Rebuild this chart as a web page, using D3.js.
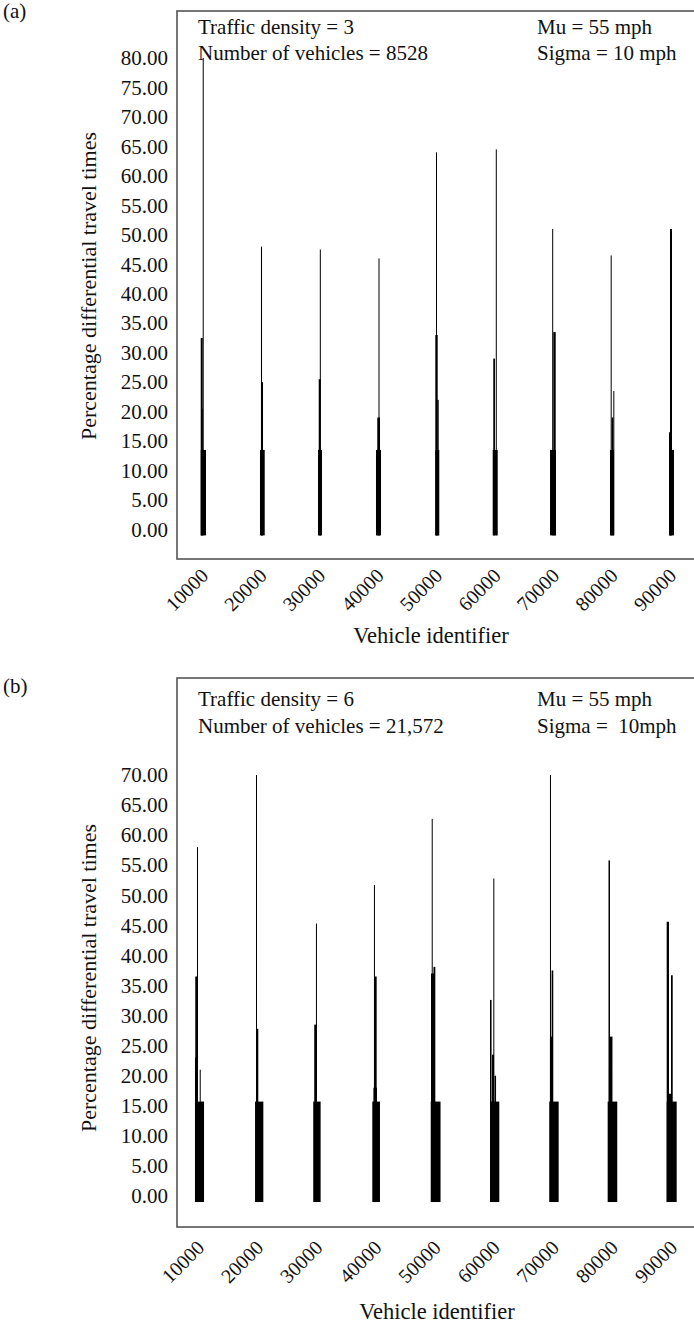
<!DOCTYPE html>
<html>
<head>
<meta charset="utf-8">
<script src="https://cdn.jsdelivr.net/npm/d3@7"></script>
<style>
  html, body { margin: 0; padding: 0; background: #fff; }
  svg { display: block; }
  text { font-family: 'Liberation Serif', 'Times New Roman', serif; fill: #111; }
</style>
</head>
<body>
<svg id="chart" width="694" height="1325"></svg>
<script>
// ---------------- DATA ----------------
const xTickValues = [10000, 20000, 30000, 40000, 50000, 60000, 70000, 80000, 90000];
const yTicksA = [0, 5, 10, 15, 20, 25, 30, 35, 40, 45, 50, 55, 60, 65, 70, 75, 80];
const yTicksB = [0, 5, 10, 15, 20, 25, 30, 35, 40, 45, 50, 55, 60, 65, 70];

// panel (a): dense runs of vehicles [firstId, lastId, value]
const blocksA = [
  [9610, 10510, 13.5], [19740, 20550, 13.5], [29660, 30340, 13.5],
  [39570, 40430, 13.5], [49710, 50390, 13.5], [59520, 60380, 13.5],
  [69320, 70340, 13.5], [79570, 80260, 13.5], [89710, 90510, 13.5]
];
// panel (a): individual spikes [firstId, lastId, value]
const spikesA = [
  [9610, 9950, 32.5], [9700, 9950, 20.5], [9950, 10120, 80],
  [19910, 20260, 25], [19910, 20090, 48],
  [29780, 30120, 25.5], [29970, 30140, 47.5],
  [39790, 40260, 19], [40000, 40170, 46],
  [49710, 50120, 33], [50050, 50290, 22], [49830, 50000, 64],
  [59620, 59910, 29], [60050, 60220, 64.5],
  [69880, 70290, 33.5], [69690, 69860, 51],
  [79860, 80140, 19], [80140, 80310, 23.5], [79690, 79860, 46.5],
  [89660, 90000, 16.5], [89830, 90170, 51]
];

// panel (b)
const blocksB = [
  [9320, 10850, 15.7], [19480, 20880, 15.7], [29320, 30570, 15.7],
  [39310, 40610, 15.7], [49190, 50850, 15.7], [59220, 60790, 15.7],
  [69240, 70830, 15.7], [79120, 80740, 15.7], [89100, 90790, 15.7]
];
const spikesB = [
  [9370, 9710, 36.5], [9660, 9830, 58], [10120, 10290, 21], [9320, 9620, 23],
  [19730, 20030, 27.8], [19640, 19810, 70],
  [29490, 29900, 28.5], [29780, 29950, 45.3],
  [39640, 40050, 36.5], [39590, 39760, 51.7], [39500, 40100, 18],
  [49240, 49750, 37], [49660, 49970, 38.1], [49360, 49530, 62.7],
  [59220, 59480, 32.6], [59780, 59950, 52.8], [59560, 59900, 23.5], [59980, 60240, 20],
  [69360, 69530, 70], [69640, 69920, 37.5], [69360, 69700, 26.5],
  [79260, 79510, 55.8], [79510, 79930, 26.5], [79340, 79850, 21.5],
  [89100, 89490, 45.6], [89830, 90120, 36.7], [89320, 89830, 17]
];

const infoA = { tag: "(a)", left: ["Traffic density = 3", "Number of vehicles = 8528"], right: ["Mu = 55 mph", "Sigma = 10 mph"] };
const infoB = { tag: "(b)", left: ["Traffic density = 6", "Number of vehicles = 21,572"], right: ["Mu = 55 mph", "Sigma =  10mph"] };
const xTitle = "Vehicle identifier";
const yTitle = "Percentage differential travel times";

// ---------------- LAYOUT ----------------
const svg = d3.select("#chart");
const FS = 21;

function panel(cfg) {
  const g = svg.append("g");
  const x = d3.scaleLinear().domain([10000, 90000]).range(cfg.xRange);
  const y = d3.scaleLinear().domain([0, cfg.yMax]).range(cfg.yRange);

  // frame (right side runs off the page, as in the original)
  g.append("rect")
    .attr("x", cfg.frameL).attr("y", cfg.frameT)
    .attr("width", 720 - cfg.frameL).attr("height", cfg.frameB - cfg.frameT)
    .attr("fill", "none").attr("stroke", "#555").attr("stroke-width", 1.6);

  // tag
  g.append("text").attr("x", 3).attr("y", cfg.tagY).attr("font-size", FS).text(cfg.info.tag);

  // annotations
  cfg.info.left.forEach((t, i) => g.append("text").attr("x", 198).attr("y", cfg.annY[i])
    .attr("font-size", FS).style("white-space", "pre").text(t));
  cfg.info.right.forEach((t, i) => g.append("text").attr("x", 537).attr("y", cfg.annY[i])
    .attr("font-size", FS).style("white-space", "pre").text(t));

  // y axis
  const ya = g.append("g").attr("transform", `translate(${cfg.frameL},0)`)
    .call(d3.axisLeft(y).tickValues(cfg.yTicks).tickSize(0).tickPadding(9).tickFormat(d3.format(".2f")));
  ya.select(".domain").remove();
  ya.selectAll("text").attr("font-size", FS).attr("fill", "#111");

  // x axis
  const xa = g.append("g").attr("transform", `translate(0,${cfg.frameB})`)
    .call(d3.axisBottom(x).tickValues(xTickValues).tickSize(0).tickFormat(d3.format("d")));
  xa.select(".domain").remove();
  xa.selectAll("text")
    .attr("font-size", 20).attr("fill", "#111")
    .attr("text-anchor", "end")
    .attr("dy", "0.35em")
    .attr("transform", `translate(1,${cfg.xLabDY}) rotate(-45)`)
    .attr("y", 0).attr("x", 0);

  // titles
  g.append("text").attr("x", cfg.xTitlePos[0]).attr("y", cfg.xTitlePos[1])
    .attr("text-anchor", "middle").attr("font-size", 22.5).text(xTitle);
  g.append("text").attr("transform", `translate(${cfg.yTitlePos[0]},${cfg.yTitlePos[1]}) rotate(-90)`)
    .attr("text-anchor", "middle").attr("dominant-baseline", "central").attr("font-size", 22).text(yTitle);

  // data marks
  const base = y(cfg.baseVal);
  const drawRuns = (arr) => g.append("g").selectAll("rect").data(arr).join("rect")
    .attr("x", d => x(d[0]))
    .attr("width", d => Math.max(1, x(d[1]) - x(d[0])))
    .attr("y", d => y(d[2]))
    .attr("height", d => base - y(d[2]))
    .attr("fill", "#000");
  drawRuns(cfg.blocks);
  drawRuns(cfg.spikes);
}

panel({
  info: infoA, blocks: blocksA, spikes: spikesA, yTicks: yTicksA, yMax: 80,
  xRange: [203, 671], yRange: [529.5, 58], baseVal: -1,
  frameL: 177, frameT: 11, frameB: 559,
  tagY: 18, annY: [34, 60], xLabDY: 13,
  xTitlePos: [431, 643], yTitlePos: [88, 286]
});

panel({
  info: infoB, blocks: blocksB, spikes: spikesB, yTicks: yTicksB, yMax: 70,
  xRange: [199, 672], yRange: [1196, 775], baseVal: -1,
  frameL: 177, frameT: 678, frameB: 1227,
  tagY: 693, annY: [706, 733], xLabDY: 17,
  xTitlePos: [437, 1319], yTitlePos: [88, 978]
});
</script>
</body>
</html>
